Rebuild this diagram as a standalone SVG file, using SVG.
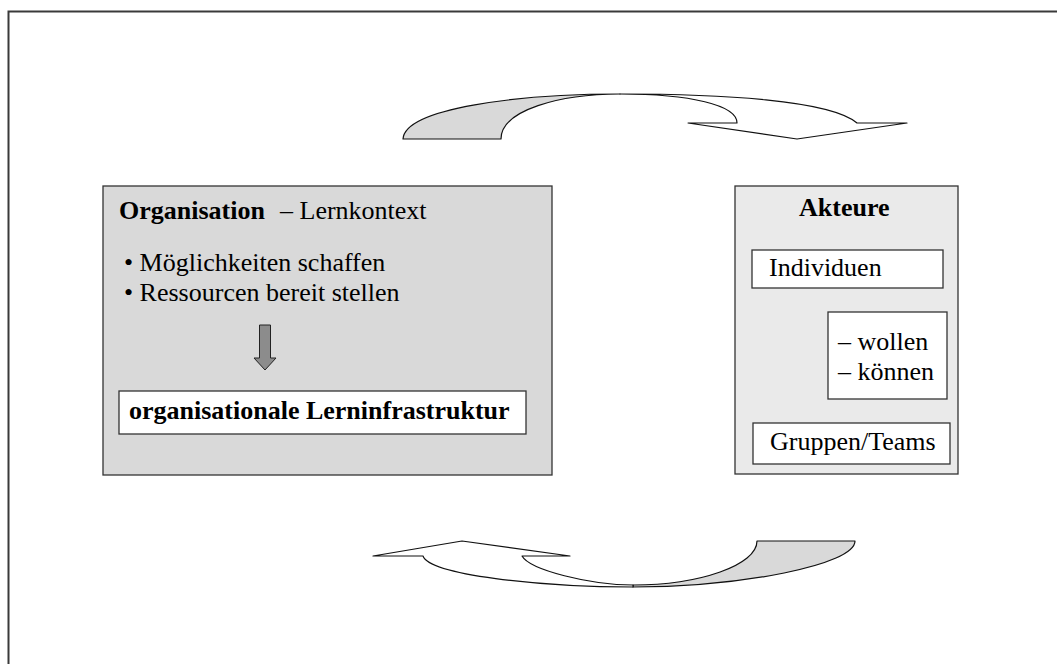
<svg xmlns="http://www.w3.org/2000/svg" width="1057" height="664" viewBox="0 0 1057 664">
<style>
text{font-family:"Liberation Serif","Times New Roman",serif;font-size:26px;fill:#000}
.b{font-weight:bold}
.box{stroke:#333;stroke-width:1.3}
.arr{stroke:#111;stroke-width:1.2;stroke-linejoin:round}
</style>
<rect width="1057" height="664" fill="#fff"/>
<path d="M8.5,664 V11.5 H1057" fill="none" stroke="#3a3a3a" stroke-width="2"/>

<g id="organisation">
<rect class="box" x="103" y="186" width="449" height="289" fill="#d9d9d9"/>
<text x="119" y="219"><tspan class="b">Organisation</tspan></text>
<text x="280" y="219">– Lernkontext</text>
<text x="124" y="271">• Möglichkeiten schaffen</text>
<text x="124" y="301">• Ressourcen bereit stellen</text>
<path d="M259.5,325 H270.5 V358 H276 L265,370 L254,358 H259.5 Z" fill="#8c8c8c" stroke="#222" stroke-width="1"/>
</g>

<g id="lerninfrastruktur">
<rect class="box" x="119" y="391" width="407" height="43" fill="#fff"/>
<text class="b" x="129" y="419">organisationale Lerninfrastruktur</text>
</g>

<g id="akteure">
<rect class="box" x="735" y="186" width="223" height="288" fill="#eaeaea"/>
<text class="b" x="799" y="216">Akteure</text>
</g>

<g id="individuen">
<rect class="box" x="752" y="250" width="191" height="38" fill="#fff"/>
<text x="769" y="276">Individuen</text>
</g>

<g id="wollen">
<rect class="box" x="828" y="312" width="119" height="87" fill="#fff"/>
<text x="838" y="350">– wollen</text>
<text x="838" y="380">– können</text>
</g>

<g id="gruppen">
<rect class="box" x="753" y="423" width="197" height="41" fill="#fff"/>
<text x="770" y="450">Gruppen/Teams</text>
</g>

<g id="connectors">
<path class="arr" fill="#d9d9d9" d="M403,139 L501,139 C501,110 560,94 620,94 C520,94 405,108 403,139 Z"/>
<path class="arr" fill="#fff" d="M620,94 C720,94 830,100 857,123 L907,123 L797,139 L688,123 L737,123 C737,105 690,94 620,94 Z"/>
<path class="arr" fill="#d9d9d9" d="M757,541 L855,541 C855,565 740,587 633,587 L633,585 C700,585 757,565 757,541 Z"/>
<path class="arr" fill="#fff" d="M633,587 C540,587 430,575 423,556 L373,556 L462,541 L570,556 L522,556 C530,570 590,585 633,585 Z"/>
</g>
</svg>
